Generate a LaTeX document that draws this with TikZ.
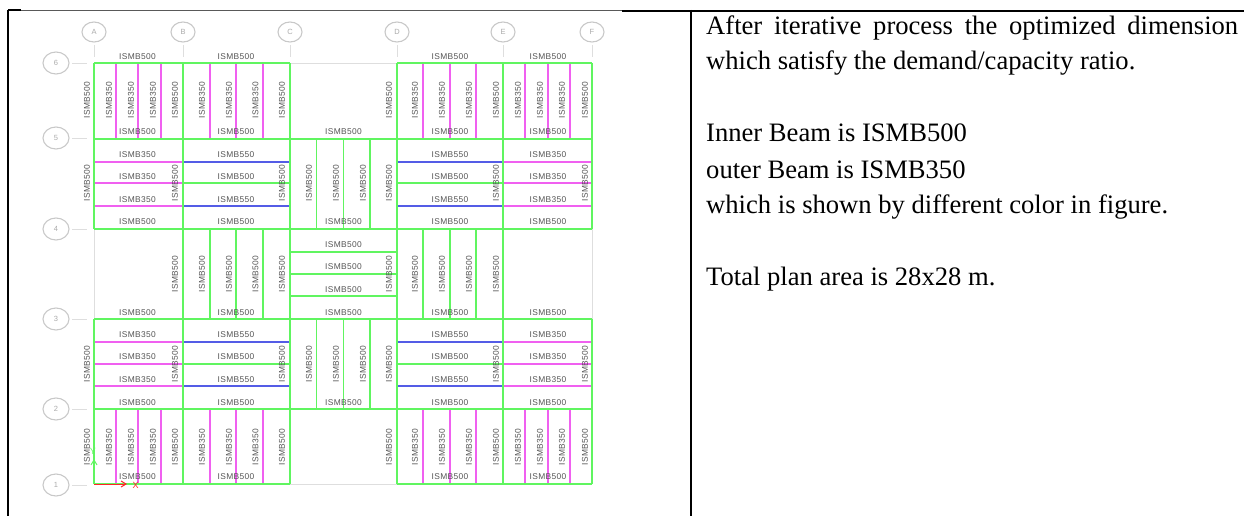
\documentclass[tikz,border=0pt]{standalone}
\usepackage{fontspec}
\setmainfont{Liberation Serif}
\newfontfamily\planfont[LetterSpace=4]{Liberation Sans}
\usetikzlibrary{arrows.meta,shapes.geometric}
\definecolor{beamgreen}{RGB}{96,245,96}
\definecolor{beammag}{RGB}{240,96,240}
\definecolor{beamblue}{RGB}{84,92,230}
\definecolor{axisgray}{RGB}{222,222,222}
\definecolor{bubgray}{RGB}{200,200,200}
\definecolor{labgray}{RGB}{85,85,85}
\tikzset{
  x=1pt,y=-1pt,
  gb/.style={draw=beamgreen,line width=1.2pt},
  mb/.style={draw=beammag,line width=1.2pt},
  bb/.style={draw=beamblue,line width=1.2pt},
  axisline/.style={draw=axisgray,line width=.9pt},
  rule/.style={draw=black,line width=2pt},
  bubtop/.style={draw=bubgray,line width=1.1pt,ellipse,minimum width=24pt,minimum height=20pt,inner sep=0pt,text=bubgray!85!black,font=\planfont\fontsize{7.5}{8}\selectfont},
  bubleft/.style={bubtop,minimum width=26pt,minimum height=22pt},
  hlab/.style={inner sep=0pt,text=labgray,font=\planfont\fontsize{8.4}{9}\selectfont},
  vlab/.style={hlab,rotate=90},
  body/.style={inner sep=0pt,anchor=base west,font=\fontsize{26.6}{30}\selectfont}
}
\begin{document}
\begin{tikzpicture}
\useasboundingbox (0,0) rectangle (1244,516);
% table rules
\draw[draw=black!65,line width=.8pt] (21,10.5) -- (622,10.5);
\draw[rule] (8,10.5) -- (21,10.5);
\draw[rule] (8,10) -- (8,516);
\draw[rule] (622,11) -- (1244,11);
\draw[rule] (691,10) -- (691,516);
% axis lines
\draw[axisline] (290,63) -- (397,63);
\draw[axisline] (290,484) -- (397,484);
\draw[axisline] (94,229) -- (94,319);
\draw[axisline] (592,229) -- (592,319);
% bubbles and ticks
\foreach \n/\x in {A/94,B/183,C/290,D/397,E/503,F/592}{
  \node[bubtop] (top\n) at (\x,32) {\n};
  \coordinate (tickT\n) at (\x,45);
  \coordinate (tickB\n) at (\x,57);
  \draw[axisline] (tickT\n) -- (tickB\n);
}
\foreach \n/\y in {6/63,5/138,4/229,3/319,2/409,1/485}{
  \node[bubleft] (side\n) at (56,\y) {\n};
  \coordinate (tickL\n) at (72,\y);
  \coordinate (tickR\n) at (87,\y);
  \draw[axisline] (tickL\n) -- (tickR\n);
}
% secondary beams
\foreach \y in {63,409}{
  \pgfmathsetmacro{\yy}{\y==63?139:484}
  \foreach \x in {116,138,161,210,236,263,423,450,476,525,548,570}
    \draw[mb] (\x,\y) -- (\x,\yy);
}
\foreach \y in {162,206,342,386}{
  \draw[mb] (94,\y) -- (183,\y);
  \draw[bb] (183,\y) -- (290,\y);
  \draw[bb] (397,\y) -- (503,\y);
  \draw[mb] (503,\y) -- (592,\y);
}
\foreach \y in {183,364}{
  \draw[mb] (94,\y) -- (183,\y);
  \draw[gb] (183,\y) -- (290,\y);
  \draw[gb] (397,\y) -- (503,\y);
  \draw[mb] (503,\y) -- (592,\y);
}
\foreach \x in {316.5,343.5,370}{
  \draw[gb] (\x,139) -- (\x,229);
  \draw[gb] (\x,319) -- (\x,409);
}
\foreach \x in {210,236,263,423,450,476}
  \draw[gb] (\x,229) -- (\x,319);
\foreach \y in {252,274,296}
  \draw[gb] (290,\y) -- (397,\y);
% main frame
\foreach \y in {63,484}{
  \draw[gb] (94,\y) -- (290,\y);
  \draw[gb] (397,\y) -- (592,\y);
}
\foreach \y in {139,229,319,409}
  \draw[gb] (94,\y) -- (592,\y);
\foreach \x in {94,592}{
  \draw[gb] (\x,63) -- (\x,229);
  \draw[gb] (\x,319) -- (\x,484);
}
\foreach \x in {183,290,397,503}
  \draw[gb] (\x,63) -- (\x,484);
% horizontal labels
\foreach \x/\t in {137.5/500,236/500,450/500,548/500}
  \node[hlab] at (\x,57) {ISMB\t};
\foreach \y in {132,222,312.5,402.5}
  \foreach \x in {137.5,236,343.5,450,548}
    \node[hlab] at (\x,\y) {ISMB500};
\foreach \x in {137.5,236,450,548}
  \node[hlab] at (\x,477) {ISMB500};
\foreach \y/\a/\b in {154.5/350/550,177/350/500,200/350/550,334.5/350/550,357/350/500,380/350/550}{
  \node[hlab] at (137.5,\y) {ISMB\a};
  \node[hlab] at (236,\y) {ISMB\b};
  \node[hlab] at (450,\y) {ISMB\b};
  \node[hlab] at (548,\y) {ISMB\a};
}
\foreach \y in {244.5,267,290}
  \node[hlab] at (343.5,\y) {ISMB500};
% vertical labels
\foreach \y in {100,447}
  \foreach \x/\t in {87/500,109/350,131/350,153/350,175/500,202/350,229/350,255.5/350,282/500,389/500,415/350,442/350,469/350,496/500,518/350,540/350,562/350,585/500}
    \node[vlab] at (\x,\y) {ISMB\t};
\foreach \y in {183,364}
  \foreach \x in {87,175,282,309,336,363,389,496,585}
    \node[vlab] at (\x,\y) {ISMB500};
\foreach \x in {175,202,229,255.5,282,389,415,442,469,496}
  \node[vlab] at (\x,274) {ISMB500};
% origin axes
\coordinate (origin) at (94,484);
\coordinate (xend) at (127,484);
\coordinate (yend) at (94,459);
\draw[draw=red!85!white,line width=1pt,-{Straight Barb[length=5pt,width=6pt]}] (origin) -- (xend);
\node[inner sep=0pt,text=red!85!white,font=\planfont\fontsize{9}{9}\selectfont] (xmark) at (135.5,485) {X};
\draw[draw=beamgreen,line width=1pt,-{Straight Barb[length=5pt,width=6pt]}] (origin) -- (yend);
\node[inner sep=0pt,text=beamgreen,font=\planfont\fontsize{9}{9}\selectfont] (ymark) at (93,451) {Y};
% text column
\node[body] (l1) at (706,35) {\hbox to 532pt{After\hfill iterative\hfill process\hfill the\hfill optimized\hfill dimension}};
\node[body] (l2) at (706,69.5) {which satisfy the demand/capacity ratio.};
\node[body] (l3) at (706,142) {Inner Beam is ISMB500};
\node[body] (l4) at (706,178) {outer Beam is ISMB350};
\node[body] (l5) at (706,213) {which is shown by different color in figure.};
\node[body] (l6) at (706,285) {Total plan area is 28x28 m.};
\end{tikzpicture}
\end{document}
